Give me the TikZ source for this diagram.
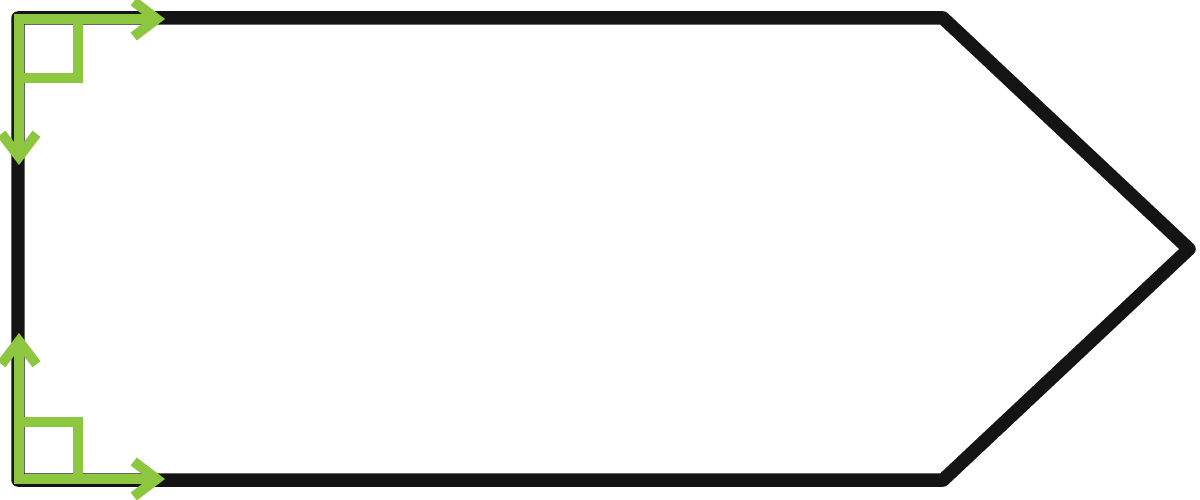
\documentclass[tikz,border=0pt]{standalone}
\usetikzlibrary{arrows.meta}
\definecolor{ink}{HTML}{141414}
\definecolor{leaf}{HTML}{8DC63F}
\begin{document}
\begin{tikzpicture}[x=0.02cm, y=-0.02cm,
    outline/.style={draw=ink, line width=0.27cm, line join=round},
    corner/.style={draw=leaf, line width=0.2cm, line join=miter},
    axes/.style={corner, {Straight Barb[length=0.46cm, width=0.7cm]}-{Straight Barb[length=0.46cm, width=0.7cm]}}]
    \useasboundingbox (0,0) rectangle (1200,500);
    \coordinate (nw) at (18,18);
    \coordinate (ne) at (943,18);
    \coordinate (tip) at (1189,249);
    \coordinate (se) at (943,480);
    \coordinate (sw) at (18,480);
    \draw[outline] (nw) -- (ne) -- (tip) -- (se) -- (sw) -- cycle;
    \coordinate (top corner) at (19,19);
    \coordinate (top right) at (165,19);
    \coordinate (top down) at (19,165);
    \coordinate (top box) at (78,78);
    \coordinate (bot corner) at (19,479);
    \coordinate (bot right) at (165,479);
    \coordinate (bot up) at (19,333);
    \coordinate (bot box) at (78,422);
    \draw[axes] (top down) -- (top corner) -- (top right);
    \draw[corner] (top corner |- top box) -- (top box) -- (top box |- top corner);
    \draw[axes] (bot up) -- (bot corner) -- (bot right);
    \draw[corner] (bot corner |- bot box) -- (bot box) -- (bot box |- bot corner);
\end{tikzpicture}
\end{document}
